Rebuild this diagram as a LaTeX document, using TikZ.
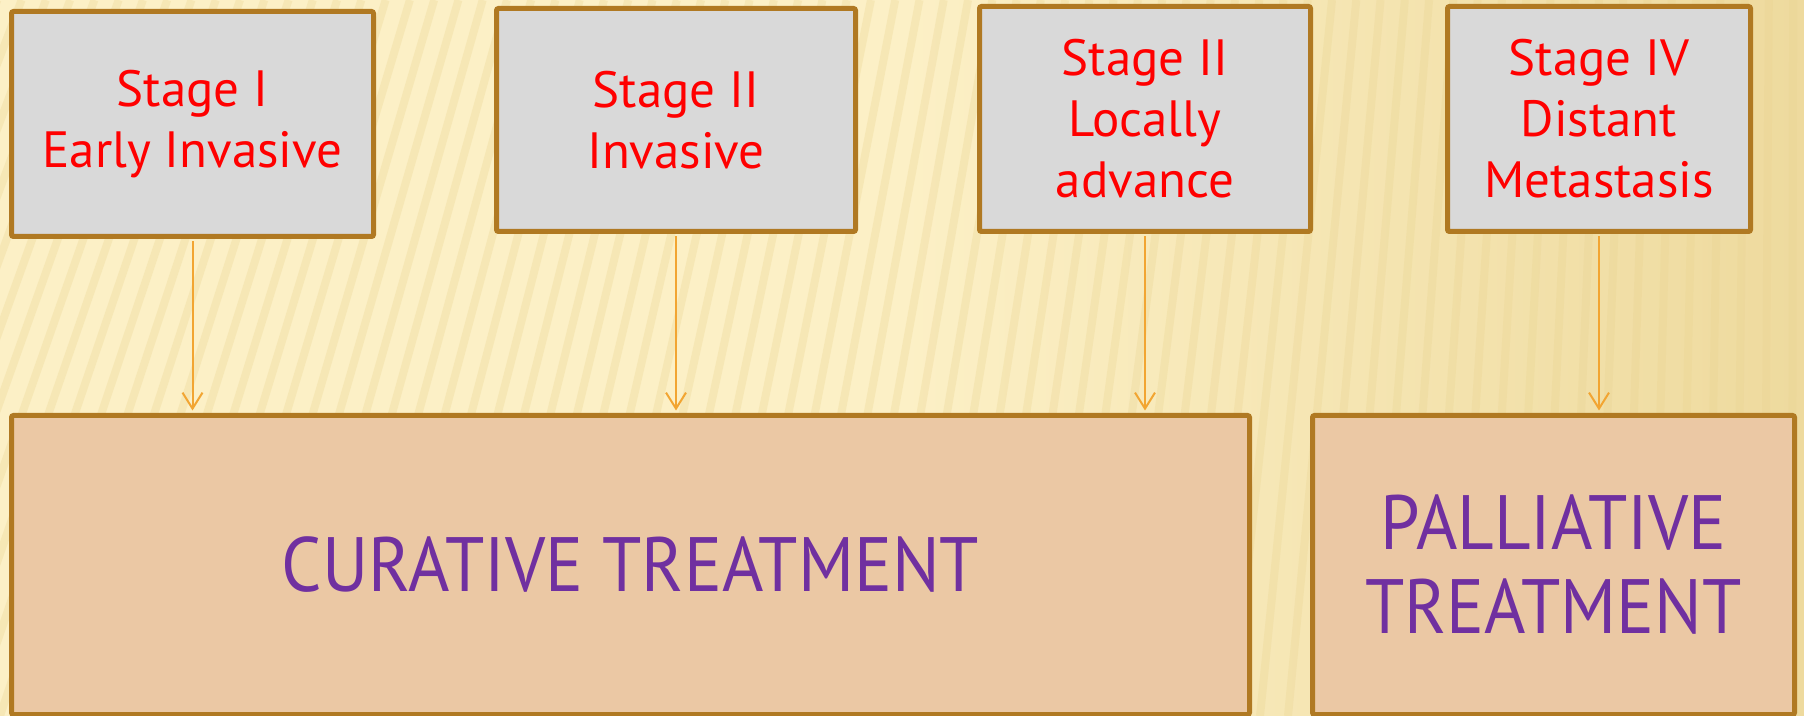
\documentclass[tikz,border=0pt]{standalone}
\usepackage{fontspec}
\setmainfont{PT Sans}
\newfontfamily\treatfont[FakeStretch=0.92]{PT Sans}
\usetikzlibrary{arrows.meta}
\definecolor{bgc}{RGB}{252,240,198}
\definecolor{bgdark}{RGB}{238,218,158}
\definecolor{stripec}{RGB}{234,212,145}
\definecolor{borderc}{RGB}{176,121,34}
\definecolor{grayfill}{RGB}{217,217,217}
\definecolor{peach}{RGB}{235,200,164}
\definecolor{redtxt}{RGB}{255,0,0}
\definecolor{purp}{RGB}{112,48,160}
\definecolor{arrowc}{RGB}{242,165,50}
\begin{document}
\begin{tikzpicture}[x=0.5pt,y=-0.5pt,
 stagebox/.style={draw=borderc, fill=grayfill, line width=2.5pt, rounded corners=1pt, align=center, text=redtxt, font=\fontsize{25.5}{30.5}\selectfont, inner sep=0pt},
 treatbox/.style={draw=borderc, fill=peach, line width=2.5pt, rounded corners=1pt, align=center, text=purp, font=\treatfont\fontsize{38.5}{42}\selectfont, inner sep=0pt},
 link/.style={draw=arrowc, line width=1pt, -{Straight Barb[length=8pt,width=10pt]}, shorten <=1.25pt, shorten >=1.25pt},
 stripe/.style={stripec, line width=4pt, opacity=0.3}]
\useasboundingbox (0,0) rectangle (1804,716);
\shade[left color=bgc, right color=bgdark, middle color=bgc] (0,0) rectangle (1804,716);
\begin{scope}
\clip (0,0) rectangle (1804,716);
\foreach \b in {-420,-392,...,1900}{
  \pgfmathsetmacro{\t}{\b+240*(1-\b/1800)}
  \draw[stripe] (\b,716) -- (\t,0);
}
\end{scope}
\node[stagebox, minimum width=181pt, minimum height=112.5pt] (b1) at (192.5,124) {Stage I\\Early Invasive};
\node[stagebox, minimum width=179.5pt, minimum height=111.5pt] (b2) at (676,120) {Stage II\\Invasive};
\node[stagebox, minimum width=165.5pt, minimum height=112.5pt] (b3) at (1145,119) {Stage II\\Locally\\advance};
\node[stagebox, minimum width=151.5pt, minimum height=112.5pt] (b4) at (1599,119) {Stage IV\\Distant\\Metastasis};
\node[treatbox, minimum width=619pt, minimum height=149.5pt] (cur) at (630.5,565) {CURATIVE TREATMENT};
\node[treatbox, minimum width=241pt, minimum height=149.5pt] (pal) at (1553.5,565) {PALLIATIVE\\TREATMENT};
\draw[link] (b1.south) -- (b1.south |- cur.north);
\draw[link] (b2.south) -- (b2.south |- cur.north);
\draw[link] (b3.south) -- (b3.south |- cur.north);
\draw[link] (b4.south) -- (b4.south |- pal.north);
\end{tikzpicture}
\end{document}
